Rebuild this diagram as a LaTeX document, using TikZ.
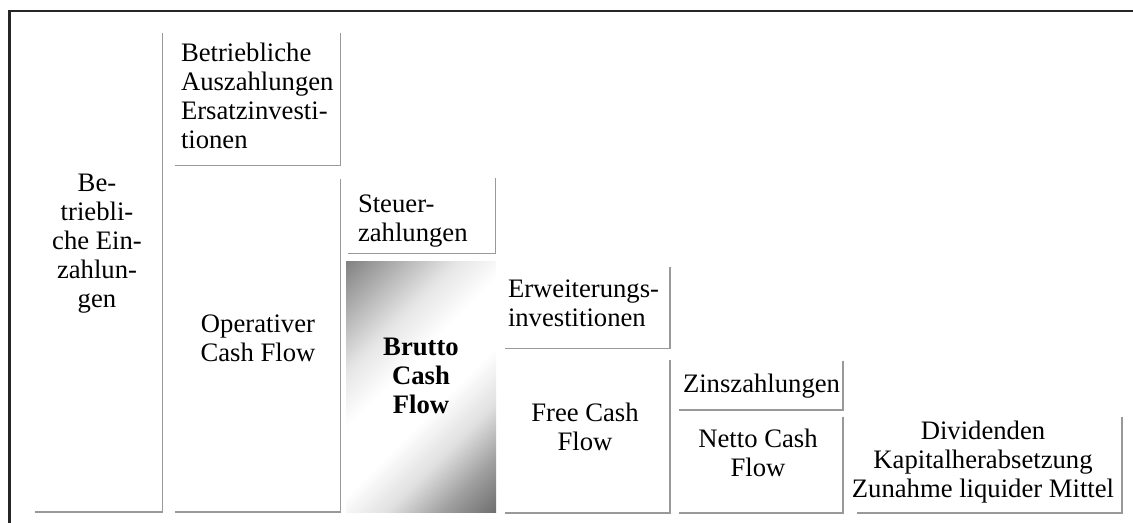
\documentclass[tikz,border=0pt]{standalone}
\usepackage{fontspec}
\setmainfont{Liberation Serif}
\usetikzlibrary{fit}
\pgfdeclareverticalshading{bcfshade}{100bp}{%
  color(0bp)=(black!60); color(14bp)=(black!58); color(24bp)=(black!38);
  color(34bp)=(black!12); color(44bp)=(white); color(56bp)=(white);
  color(66bp)=(black!10); color(76bp)=(black!30); color(86bp)=(black!50);
  color(100bp)=(black!52)}
\begin{document}
\begin{tikzpicture}[x=0.75pt,y=-0.75pt,
  area/.style={inner sep=0pt, outer sep=0pt},
  shadowline/.style={draw=black!40, line width=1.4pt},
  frame/.style={draw=black!85, line width=1.6pt},
  txt/.style={inner sep=0pt, outer sep=0pt, font=\fontsize{20pt}{21.75pt}\selectfont},
  ctxt/.style={txt, align=center},
  ltxt/.style={txt, align=left, anchor=west},
  brutto/.style={area, shade, shading=bcfshade, shading angle=45}
]
\useasboundingbox (0,0) rectangle (1133,523);
\fill[white] (0,0) rectangle (1133,523);
% outer frame
\coordinate (fs) at (9.5,523);
\coordinate (fc) at (9.5,11);
\coordinate (fe) at (1133,11);
\draw[frame] (fs) -- (fc) -- (fe);
% box areas
\node[area, fit={(35,33) (162.5,512)}] (ein) {};
\node[area, fit={(175,33) (340.5,165.5)}] (aus) {};
\node[area, fit={(175,179) (340.5,512)}] (ocf) {};
\node[area, fit={(348,178) (495.5,253.5)}] (st) {};
\node[brutto, fit={(346,262) (496,513)}] (bcf) {};
\node[area, fit={(505,267) (670,348.5)}] (erw) {};
\node[area, fit={(505,360) (670,513)}] (fcf) {};
\node[area, fit={(679,361) (843,410)}] (zins) {};
\node[area, fit={(679,417) (843,513)}] (ncf) {};
\node[area, fit={(857,417) (1122,513)}] (div) {};
% shadow lines (right and bottom edges)
\foreach \b in {ein,aus,ocf,st,erw,fcf,zins,ncf,div}{
  \draw[shadowline] (\b.north east) -- (\b.south east) -- (\b.south west);
}
% texts
\node[ctxt] (tein) at (97,244) {Be-\\triebli-\\che Ein-\\zahlun-\\gen};
\node[ltxt] (taus) at (181,96) {Betriebliche\\Auszahlungen\\Ersatzinvesti-\\tionen};
\node[ctxt] (tocf) at (258,338.5) {Operativer\\Cash Flow};
\node[ltxt] (tst) at (358,221) {Steuer-\\zahlungen};
\node[ctxt, font=\fontsize{20pt}{21.75pt}\selectfont\bfseries] (tbcf) at (421,376) {Brutto\\Cash\\Flow};
\node[ltxt] (terw) at (508,303.5) {Erweiterungs-\\investitionen};
\node[ctxt] (tfcf) at (585,427) {Free Cash\\Flow};
\node[ltxt] (tzins) at (683,386) {Zinszahlungen};
\node[ctxt] (tncf) at (758,453) {Netto Cash\\Flow};
\node[ctxt] (tdiv) at (983,462) {Dividenden\\Kapitalherabsetzung\\Zunahme liquider Mittel};
\end{tikzpicture}
\end{document}
